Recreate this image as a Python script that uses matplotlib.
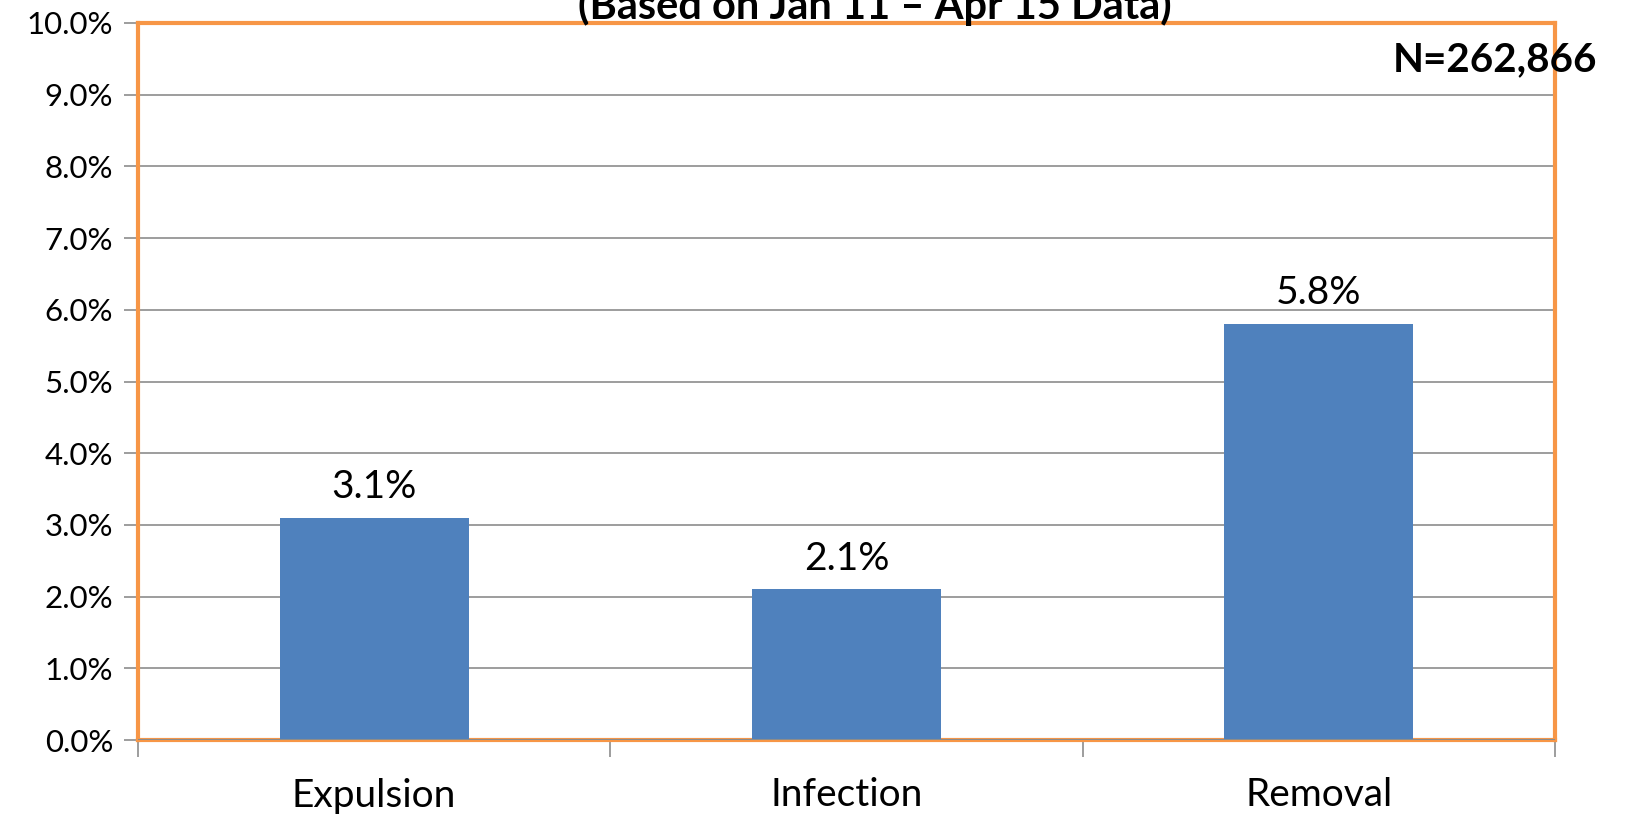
import numpy as np
import matplotlib.pyplot as plt

plt.rcParams['font.family'] = ['Lato', 'DejaVu Sans']

categories = ['Expulsion', 'Infection', 'Removal']
rates = [3.1, 2.1, 5.8]
y_ticks = np.arange(0, 11, 1)
title_text = '(Based on Jan 11 \u2013 Apr 15 Data)'
n_text = 'N=262,866'

W, H = 1629, 814
fig = plt.figure(figsize=(W / 100, H / 100), dpi=100)
left, right, bottom, top = 138, 1555, 740, 23
ax = fig.add_axes([left / W, 1 - bottom / H, (right - left) / W, (bottom - top) / H])

x = np.arange(len(categories))
ax.bar(x, rates, width=0.4, color='#4F81BD', zorder=3)
for xi, v in zip(x, rates):
    ax.text(xi, v + 0.18, f'{v:.1f}%', ha='center', va='bottom', fontsize=28, color='black')

ax.set_xlim(-0.5, len(categories) - 0.5)
ax.set_ylim(0, 10)
ax.set_yticks(y_ticks)
ax.set_yticklabels([f'{t:.1f}%' for t in y_ticks], fontsize=22.5)
ax.yaxis.grid(True, color='#8C8C8C', linewidth=1.2, zorder=0)

ax.set_xticks(x)
ax.set_xticklabels(categories, fontsize=28)
ax.set_xticks(np.arange(-0.5, len(categories), 1), minor=True)
ax.tick_params(axis='x', which='major', length=0, pad=27)
ax.tick_params(axis='x', which='minor', length=12, color='#8C8C8C', width=1.2)
ax.tick_params(axis='y', length=10, color='#8C8C8C', width=1.2, pad=8)

for s in ax.spines.values():
    s.set_color('#F79646')
    s.set_linewidth(3)
ax.axhline(0, color='#8C8C8C', linewidth=1.5, zorder=4)

fig.text(875 / W, 1 - 19 / H, title_text, ha='center', va='baseline',
         fontsize=30, fontweight='bold')
fig.text(1597 / W, 1 - 60 / H, n_text, ha='right', va='center',
         fontsize=29, fontweight='bold', zorder=5)

fig.savefig('out.png', dpi=100)
